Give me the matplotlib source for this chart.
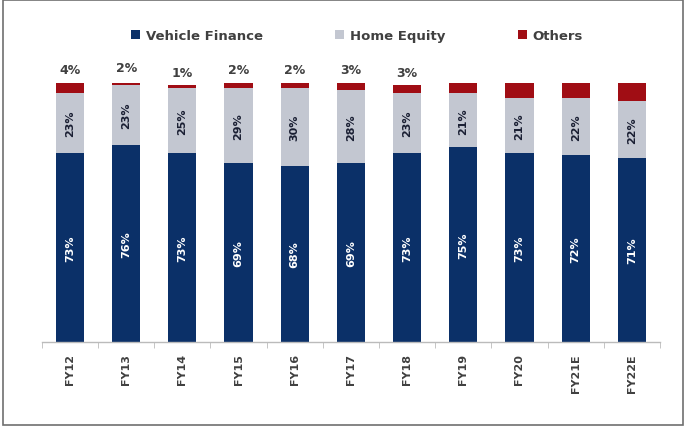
import matplotlib.pyplot as plt
from matplotlib.patches import Rectangle
import numpy as np

years = ["FY12", "FY13", "FY14", "FY15", "FY16", "FY17", "FY18", "FY19", "FY20", "FY21E", "FY22E"]
vehicle_finance = [73, 76, 73, 69, 68, 69, 73, 75, 73, 72, 71]
home_equity = [23, 23, 25, 29, 30, 28, 23, 21, 21, 22, 22]
others = [4, 2, 1, 2, 2, 3, 3, 4, 6, 6, 7]
# "Others" share is printed above the bar only for actual years up to FY18
others_labelled = [True, True, True, True, True, True, True, False, False, False, False]

c_vf = "#0B3068"
c_he = "#C3C7D1"
c_ot = "#A00D14"
c_text = "#404040"

plt.rcParams["font.family"] = ["DejaVu Sans"]

fig = plt.figure(figsize=(6.86, 4.27), dpi=100)
ax = fig.add_axes([0.061, 0.197, 0.901, 0.607])

x = np.arange(len(years))
w = 0.5
vf = np.array(vehicle_finance, dtype=float)
he = np.array(home_equity, dtype=float)
ot = np.array(others, dtype=float)

ax.bar(x, vf, w, color=c_vf, label="Vehicle Finance", zorder=2)
ax.bar(x, he, w, bottom=vf, color=c_he, label="Home Equity", zorder=2)
ax.bar(x, ot, w, bottom=vf + he, color=c_ot, label="Others", zorder=2)

for i in range(len(years)):
    ax.text(x[i], vf[i] / 2, f"{vehicle_finance[i]}%", rotation=90, ha="center", va="center",
            color="white", fontsize=8, fontweight="bold", zorder=3)
    ax.text(x[i], vf[i] + he[i] / 2, f"{home_equity[i]}%", rotation=90, ha="center", va="center",
            color="#1A1F33", fontsize=8, fontweight="bold", zorder=3)
    if others_labelled[i]:
        ax.text(x[i], vf[i] + he[i] + ot[i] + 2.5, f"{others[i]}%", ha="center", va="bottom",
                color=c_text, fontsize=9, fontweight="bold", clip_on=False)

ax.set_xlim(-0.5, len(years) - 0.5)
ax.set_ylim(0, 100)
ax.set_yticks([])
for s in ["left", "right", "top"]:
    ax.spines[s].set_visible(False)
ax.spines["bottom"].set_color("#BBBBBB")
ax.spines["bottom"].set_linewidth(1.0)

ax.set_xticks(x)
ax.set_xticklabels(years, rotation=90, fontsize=8, fontweight="bold", color=c_text)
ax.tick_params(axis="x", which="major", length=0, pad=8)
ax.set_xticks(np.arange(-0.5, len(years), 1.0), minor=True)
ax.tick_params(axis="x", which="minor", length=4, color="#BBBBBB", direction="out")

fig.legend(loc="center", bbox_to_anchor=(0.52, 0.915), ncol=3, frameon=False,
           fontsize=9.5, prop={"weight": "bold", "size": 9.5}, handlelength=0.7, handleheight=0.7,
           handletextpad=0.4, columnspacing=5.5, labelcolor=c_text)

fig.add_artist(Rectangle((3 / 686, 1 / 427), 680 / 686, 425 / 427, transform=fig.transFigure,
                         fill=False, edgecolor="#707070", linewidth=1.2))

fig.savefig("out.png", dpi=100)
